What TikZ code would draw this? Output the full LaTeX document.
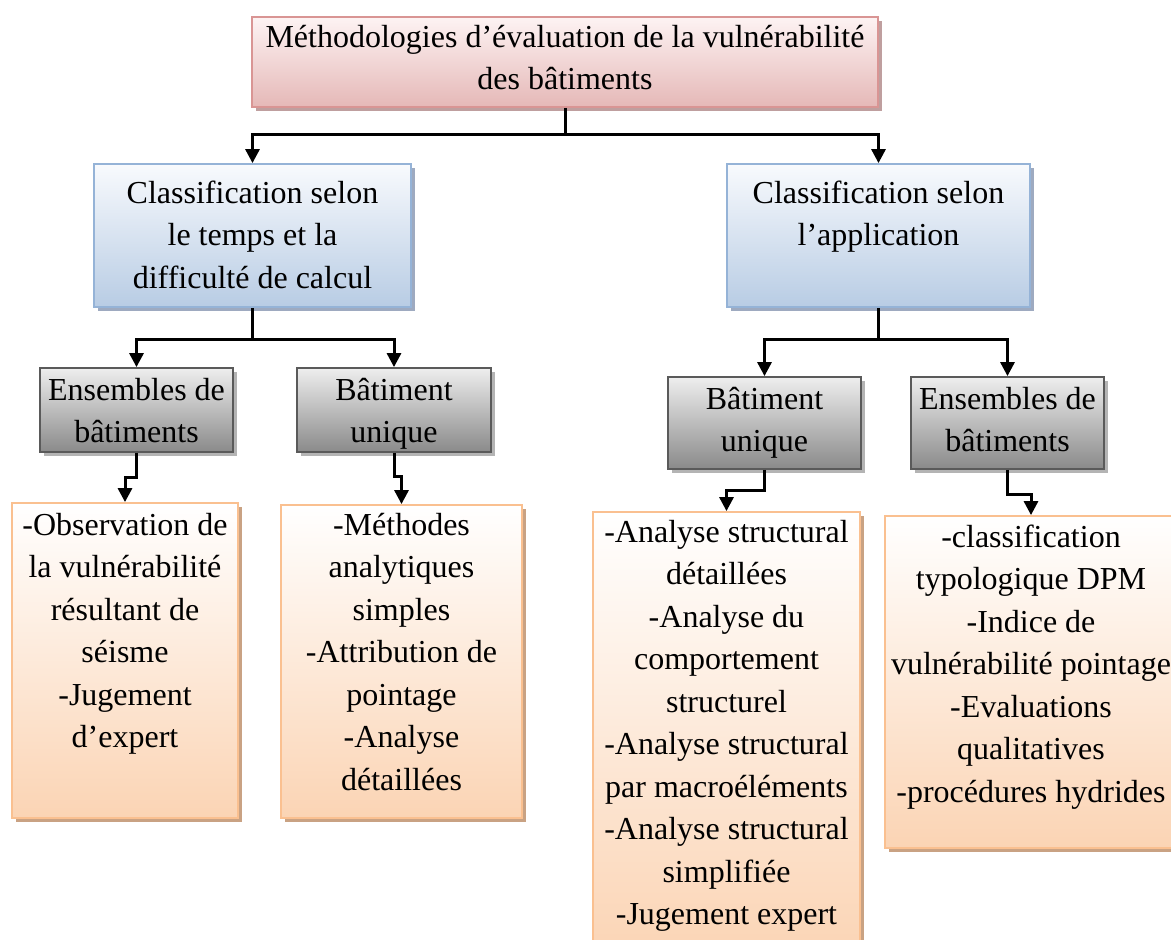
\documentclass[tikz,border=0pt]{standalone}
\usepackage{fontspec}
\setmainfont{Liberation Serif}
\usetikzlibrary{arrows.meta,shadows}

% palette
\definecolor{rootBd}{HTML}{D99594}
\definecolor{rootT}{HTML}{FDF3F3}
\definecolor{rootB}{HTML}{E5B8B7}
\definecolor{rootSh}{HTML}{BF9F9F}
\definecolor{blueBd}{HTML}{95B3D7}
\definecolor{blueT}{HTML}{F8FAFD}
\definecolor{blueB}{HTML}{B8CCE4}
\definecolor{blueSh}{HTML}{9EAAC0}
\definecolor{grayBd}{HTML}{5A5A5A}
\definecolor{grayT}{HTML}{EEEEEE}
\definecolor{grayB}{HTML}{8A8A8A}
\definecolor{graySh}{HTML}{B4B4B4}
\definecolor{orBd}{HTML}{FAC090}
\definecolor{orT}{HTML}{FFFFFF}
\definecolor{orB}{HTML}{FBD4B4}
\definecolor{orSh}{HTML}{C9A283}

% centred stack of lines whose baseline is the first line
\newcommand{\boxlines}[1]{\begin{tabular}[t]{@{}c@{}}#1\end{tabular}}

\tikzset{
  panel/.style n args={4}{draw=#1, line width=1.8pt, top color=#2, bottom color=#3,
    inner sep=0pt, rectangle,
    general shadow={fill=#4, shadow xshift=3.5pt, shadow yshift=-3.5pt}},
  rootbox/.style={panel={rootBd}{rootT}{rootB}{rootSh}},
  classbox/.style={panel={blueBd}{blueT}{blueB}{blueSh}},
  groupbox/.style={panel={grayBd}{grayT}{grayB}{graySh}},
  listbox/.style={panel={orBd}{orT}{orB}{orSh}},
  label/.style={inner sep=0pt, anchor=base, font=\fontsize{32}{42.5}\selectfont},
  conn/.style={line width=3pt, draw=black, -{Triangle[width=14pt,length=14pt]}},
}

\begin{document}
\begin{tikzpicture}[x=1pt,y=-1pt]
\useasboundingbox (0,0) rectangle (1171,940);

% boxes
\node[rootbox,  minimum width=626, minimum height=90]  (root) at (565,62) {};
\node[classbox, minimum width=317, minimum height=143] (cl1) at (252.5,235.5) {};
\node[classbox, minimum width=303, minimum height=143] (cl2) at (878.5,235.5) {};
\node[groupbox, minimum width=193, minimum height=84]  (g1) at (136.5,410) {};
\node[groupbox, minimum width=194, minimum height=84]  (g2) at (394,410) {};
\node[groupbox, minimum width=193, minimum height=92]  (g3) at (764.5,423) {};
\node[groupbox, minimum width=193, minimum height=92]  (g4) at (1007.5,423) {};
\node[listbox,  minimum width=226, minimum height=315] (l1) at (125,660.5) {};
\node[listbox,  minimum width=241, minimum height=313] (l2) at (401.5,661.5) {};
\node[listbox,  minimum width=267, minimum height=448] (l3) at (726.5,736) {};
\node[listbox,  minimum width=292, minimum height=332] (l4) at (1031,682) {};

% texts
\node[label] (roott) at (565,47) {\boxlines{Méthodologies d’évaluation de la vulnérabilité\\des bâtiments}};
\node[label] (cl1t) at (252.5,203) {\boxlines{Classification selon\\le temps et la\\difficulté de calcul}};
\node[label] (cl2t) at (878.5,203) {\boxlines{Classification selon\\l’application}};
\node[label] (g1t) at (136.5,400) {\boxlines{Ensembles de\\bâtiments}};
\node[label] (g2t) at (394,400) {\boxlines{Bâtiment\\unique}};
\node[label] (g3t) at (764.5,409) {\boxlines{Bâtiment\\unique}};
\node[label] (g4t) at (1007.5,409) {\boxlines{Ensembles de\\bâtiments}};
\node[label] (l1t) at (125,535) {\boxlines{-Observation de\\la vulnérabilité\\résultant de\\séisme\\-Jugement\\d’expert}};
\node[label] (l2t) at (401.5,535) {\boxlines{-Méthodes\\analytiques\\simples\\-Attribution de\\pointage\\-Analyse\\détaillées}};
\node[label] (l3t) at (726.5,542) {\boxlines{-Analyse structural\\détaillées\\-Analyse du\\comportement\\structurel\\-Analyse structural\\par macroéléments\\-Analyse structural\\simplifiée\\-Jugement expert}};
\node[label] (l4t) at (1031,547) {\boxlines{-classification\\typologique DPM\\-Indice de\\vulnérabilité pointage\\-Evaluations\\qualitatives\\-procédures hydrides}};

% junctions
\coordinate (j0) at (565,134);
\coordinate (j1) at (252.5,339);
\coordinate (j2) at (878.5,339);
\coordinate (j3) at (136.5,477);
\coordinate (j4) at (394,476);
\coordinate (j5) at (764.5,490);
\coordinate (j6) at (1007.5,494);

% connectors
\draw[conn] (root.south) -- (j0) -| (cl1.north);
\draw[conn] (j0) -| (cl2.north);
\draw[conn] (cl1.south) -- (j1) -| (g1.north);
\draw[conn] (j1) -| (g2.north);
\draw[conn] (cl2.south) -- (j2) -| (g3.north);
\draw[conn] (j2) -| (g4.north);
\draw[conn] (g1.south) -- (j3) -| (l1.north);
\draw[conn] (g2.south) -- (j4) -| (l2.north);
\draw[conn] (g3.south) -- (j5) -| (l3.north);
\draw[conn] (g4.south) -- (j6) -| (l4.north);
\end{tikzpicture}
\end{document}
